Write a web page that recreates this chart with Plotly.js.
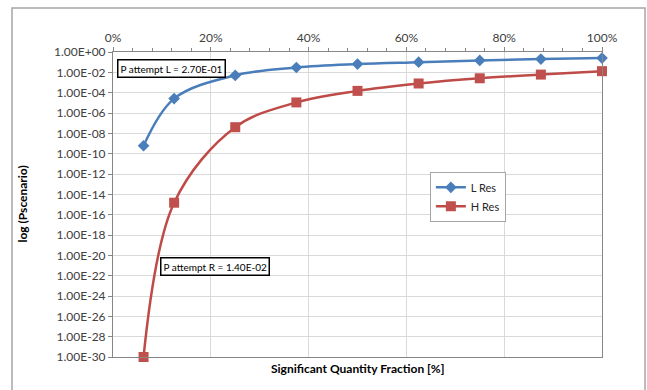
<!DOCTYPE html>
<html>
<head>
<meta charset="utf-8">
<script src="https://cdn.plot.ly/plotly-3.0.1.min.js"></script>
<style>html,body{margin:0;padding:0;background:#fff;}#chart{width:647px;height:390px;}</style>
</head>
<body>
<div id="chart"></div>
<script>
// Significant quantity fraction (as fraction of 1)
const fractions = [0.0625, 0.125, 0.25, 0.375, 0.5, 0.625, 0.75, 0.875, 1.0];
// Series values
const lRes = [6e-10, 2.6e-5, 5e-3, 3e-2, 6.5e-2, 1.0e-1, 1.5e-1, 2.0e-1, 2.5e-1];
const hRes = [1e-30, 1.5e-15, 4e-8, 1.1e-5, 1.5e-4, 8e-4, 2.6e-3, 6e-3, 1.3e-2];
const seriesNames = ["L Res", "H Res"];
// Y tick values and labels
const yTickVals = [1e0,1e-2,1e-4,1e-6,1e-8,1e-10,1e-12,1e-14,1e-16,1e-18,1e-20,1e-22,1e-24,1e-26,1e-28,1e-30];
const yTickText = ["1.00E+00","1.00E-02","1.00E-04","1.00E-06","1.00E-08","1.00E-10","1.00E-12","1.00E-14","1.00E-16","1.00E-18","1.00E-20","1.00E-22","1.00E-24","1.00E-26","1.00E-28","1.00E-30"];
const xTickVals = [0, 0.2, 0.4, 0.6, 0.8, 1.0];
const xTickText = ["0%","20%","40%","60%","80%","100%"];
const noteL = "P attempt L = 2.70E-01";
const noteR = "P attempt R = 1.40E-02";
const xTitle = "Significant Quantity Fraction [%]";
const yTitle = "log (Pscenario)";

const FONT = "Lato, 'Open Sans', sans-serif";

const traces = [
  {
    x: fractions, y: lRes, name: seriesNames[0], type: "scatter", mode: "lines+markers",
    line: {color: "#4A7EBB", width: 2.5, shape: "spline", smoothing: 1},
    marker: {symbol: "diamond", size: 9, color: "#4A7EBB"},
    cliponaxis: false
  },
  {
    x: fractions, y: hRes, name: seriesNames[1], type: "scatter", mode: "lines+markers",
    line: {color: "#BE4B48", width: 2.5, shape: "spline", smoothing: 1},
    marker: {symbol: "square", size: 10, color: "#C0504D"},
    cliponaxis: false
  }
];

const layout = {
  width: 647, height: 390,
  margin: {l: 113, r: 45, t: 52, b: 33},
  paper_bgcolor: "#ffffff",
  plot_bgcolor: "#ffffff",
  font: {family: FONT, size: 12, color: "#404040"},
  showlegend: true,
  legend: {
    x: 0.648, y: 0.607, xanchor: "left", yanchor: "top",
    bgcolor: "#ffffff", bordercolor: "#a6a6a6", borderwidth: 1,
    font: {family: FONT, size: 11, color: "#262626"},
    itemwidth: 30, tracegroupgap: 4
  },
  xaxis: {
    side: "top", range: [0, 1], tickvals: xTickVals, ticktext: xTickText,
    showgrid: true, gridcolor: "#d9d9d9", gridwidth: 1,
    showline: true, linecolor: "#868686", linewidth: 1, mirror: true,
    ticks: "outside", ticklen: 4, tickcolor: "#868686",
    minor: {dtick: 0.04, ticks: "outside", ticklen: 3, tickcolor: "#868686", showgrid: false},
    zeroline: false, tickfont: {family: FONT, size: 12, color: "#404040"}
  },
  yaxis: {
    type: "log", range: [-30, 0], tickvals: yTickVals, ticktext: yTickText,
    showgrid: true, gridcolor: "#d9d9d9", gridwidth: 1,
    showline: true, linecolor: "#868686", linewidth: 1, mirror: true,
    ticks: "outside", ticklen: 4, tickcolor: "#868686",
    zeroline: false, tickfont: {family: FONT, size: 12, color: "#404040"}
  },
  annotations: [
    {text: noteL, xref: "paper", yref: "paper", x: 0.008, y: 0.947, xanchor: "left", yanchor: "middle",
     showarrow: false, font: {family: FONT, size: 10, color: "#000000"},
     bgcolor: "#ffffff", bordercolor: "#000000", borderwidth: 1.5, borderpad: 2},
    {text: noteR, xref: "paper", yref: "paper", x: 0.097, y: 0.296, xanchor: "left", yanchor: "middle",
     showarrow: false, font: {family: FONT, size: 10, color: "#000000"},
     bgcolor: "#ffffff", bordercolor: "#000000", borderwidth: 1.5, borderpad: 2},
    {text: "<b>" + xTitle + "</b>", xref: "paper", yref: "paper", x: 0.5, y: -0.039, xanchor: "center", yanchor: "middle",
     showarrow: false, font: {family: FONT, size: 12, color: "#000000"}},
    {text: "<b>" + yTitle + "</b>", xref: "paper", yref: "paper", x: -0.186, y: 0.5, xanchor: "center", yanchor: "middle",
     textangle: -90, showarrow: false, font: {family: FONT, size: 12, color: "#000000"}}
  ],
  shapes: [
    {type: "rect", xref: "paper", yref: "paper", x0: -0.2065, x1: 1.088, y0: -0.12, y1: 1.144,
     line: {color: "#a6a6a6", width: 1.5}, fillcolor: "rgba(0,0,0,0)", layer: "below"}
  ]
};

Plotly.newPlot("chart", traces, layout, {displayModeBar: false, staticPlot: true});
</script>
</body>
</html>
